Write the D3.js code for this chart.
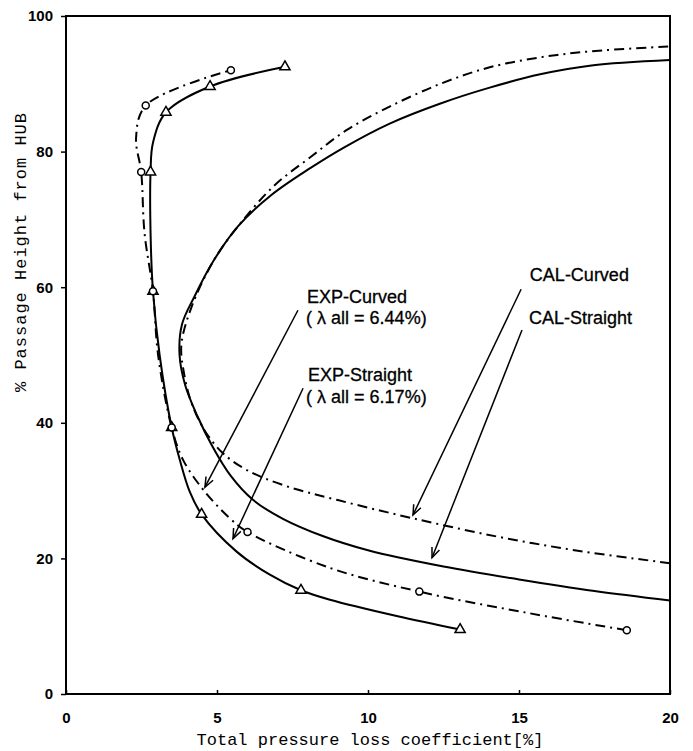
<!DOCTYPE html>
<meta charset="utf-8">
<title>Total pressure loss</title>
<style>
  body { margin: 0; background: #fff; }
  .tick-label { font-family: "Liberation Sans", Arial, sans-serif; font-weight: bold; font-size: 15px; }
  .axis-title { font-family: "Liberation Mono", "DejaVu Sans Mono", monospace; font-size: 17px; }
  .anno { font-family: "Liberation Sans", Arial, sans-serif; font-size: 18px; stroke: #000; stroke-width: 0.3px; }
</style>
<body>
<div id="chart"></div>
<script src="https://d3js.org/d3.v7.min.js"></script>
<script>

// tick labels
var xTicks = [0, 5, 10, 15, 20];
var yTicks = [0, 20, 40, 60, 80, 100];

// experiment markers  [loss %, height %]
var expStraightMarks = [[13.05, 9.5], [7.78, 15.3], [4.49, 26.5], [3.5, 39.3], [2.88, 59.4], [2.8, 77], [3.31, 85.8], [4.77, 89.6], [7.25, 92.5]];
var expCurvedMarks = [[18.57, 9.4], [11.7, 15.1], [6.01, 23.9], [3.5, 39.3], [2.88, 59.4], [2.49, 77], [2.64, 86.8], [5.46, 92]];

// experiment lines (markers plus points read between them)
var expStraightLine = [[13.05, 9.5], [10.95, 11.5], [8.74, 13.9], [7.78, 15.3], [6.75, 17.6], [5.65, 21.0], [4.49, 26.5], [4.1, 29.8], [3.77, 34.5], [3.5, 39.3], [3.1, 50], [2.88, 59.4], [2.8, 68], [2.8, 77], [2.88, 81.3], [3.31, 85.8], [4.77, 89.6], [7.25, 92.5]];
var expCurvedLine = [[18.57, 9.4], [15.36, 11.9], [11.7, 15.1], [8.74, 18.6], [6.01, 23.9], [5.43, 25.9], [4.55, 30.1], [3.88, 34.5], [3.5, 39.3], [3.05, 50], [2.88, 59.4], [2.6, 68], [2.49, 77], [2.32, 82], [2.64, 86.8], [5.46, 92]];

// calculation lines
var calStraight = [[20, 13.8], [17.5, 15.2], [15, 16.9], [12.5, 18.8], [10, 21.2], [8.5, 23.3], [7.2, 25.8], [6.2, 28.6], [5.45, 32.2], [4.85, 36.5], [4.35, 41], [3.95, 45.5], [3.76, 50], [3.84, 54.5], [4.25, 58.6], [4.9, 64], [5.7, 69], [6.8, 73.6], [8.1, 77.6], [9.2, 80.6], [10.7, 84.1], [12.4, 87.1], [14.0, 89.4], [15.7, 91.4], [17.4, 92.7], [20, 93.5]];
var calCurved = [[20, 19.3], [17, 21.1], [14.3, 23.2], [11.5, 25.9], [9, 28.6], [7.2, 30.8], [6.0, 33.0], [5.2, 35.5], [4.6, 38.8], [4.15, 43], [3.9, 47.5], [3.82, 51.5], [4.15, 57], [4.9, 64], [5.7, 69], [6.9, 75], [8.1, 79.2], [9.3, 83.2], [10.7, 86.6], [12.4, 90], [14, 92.4], [15.7, 93.9], [17.4, 94.8], [20, 95.5]];

// annotations
var annoText = ["EXP-Curved", "( \u03bb all = 6.44%)", "EXP-Straight", "( \u03bb all = 6.17%)", "CAL-Curved", "CAL-Straight"];
var annoAt = [[7.98, 57.7], [7.95, 54.5], [8.01, 46.1], [7.95, 42.9], [15.36, 60.9], [15.33, 54.5]];
var arrowFrom = [[7.68, 56.6], [7.85, 45.1], [15.07, 59.7], [15.1, 53.7]];
var arrowTo = [[4.6, 30.5], [5.53, 22.9], [11.49, 26.4], [12.12, 20.1]];

var W = 693, H = 751;
var margin = {top: 16, right: 23, bottom: 57, left: 66};

var svg = d3.select("#chart").append("svg")
    .attr("width", W)
    .attr("height", H);

var x = d3.scaleLinear().domain([0, 20]).range([margin.left, W - margin.right]);
var y = d3.scaleLinear().domain([0, 100]).range([H - margin.bottom, margin.top]);

// arrow head
svg.append("defs").append("marker")
    .attr("id", "arrow")
    .attr("viewBox", "-12 -6 14 12")
    .attr("refX", 0).attr("refY", 0)
    .attr("markerWidth", 14).attr("markerHeight", 12)
    .attr("markerUnits", "userSpaceOnUse")
    .attr("orient", "auto")
  .append("path")
    .attr("d", "M-10,-4L0,0L-10,4")
    .attr("fill", "none")
    .attr("stroke", "#000")
    .attr("stroke-width", 1.5);

// frame
svg.append("rect")
    .attr("x", x(0)).attr("y", y(100))
    .attr("width", x(20) - x(0)).attr("height", y(0) - y(100))
    .attr("fill", "none").attr("stroke", "#000").attr("stroke-width", 2);

// axes
var yAxis = svg.append("g")
    .attr("transform", "translate(" + x(0) + ",0)")
    .call(d3.axisLeft(y).tickValues(yTicks).tickSize(5).tickPadding(8));
var xAxis = svg.append("g")
    .attr("transform", "translate(0," + y(0) + ")")
    .call(d3.axisBottom(x).tickValues(xTicks).tickSize(-4).tickPadding(18));
[yAxis, xAxis].forEach(function(g) {
  g.select(".domain").remove();
  g.selectAll("line").attr("stroke-width", 1.5);
  g.selectAll("text").attr("class", "tick-label").attr("font-family", null).attr("font-size", null);
});

svg.append("text")
    .attr("class", "axis-title")
    .attr("x", (x(0) + x(20)) / 2 + 2)
    .attr("y", 745)
    .attr("text-anchor", "middle")
    .text("Total pressure loss coefficient[%]");

svg.append("text")
    .attr("class", "axis-title")
    .attr("transform", "translate(26,252) rotate(-90)")
    .attr("text-anchor", "middle")
    .attr("letter-spacing", "1px")
    .text("% Passage Height from HUB");

// lines
var line = d3.line()
    .x(function(d) { return x(d[0]); })
    .y(function(d) { return y(d[1]); })
    .curve(d3.curveCatmullRom.alpha(0.5));

var series = [
  {pts: calStraight, dash: null},
  {pts: calCurved, dash: "10,5,2,5"},
  {pts: expStraightLine, dash: null},
  {pts: expCurvedLine, dash: "10,5,2,5"}
];
svg.append("g").selectAll("path")
  .data(series)
  .enter().append("path")
    .attr("d", function(d) { return line(d.pts); })
    .attr("fill", "none")
    .attr("stroke", "#000")
    .attr("stroke-width", 2)
    .attr("stroke-dasharray", function(d) { return d.dash; });

// markers
svg.append("g").selectAll("path")
  .data(expStraightMarks)
  .enter().append("path")
    .attr("transform", function(d) { return "translate(" + x(d[0]) + "," + y(d[1]) + ")"; })
    .attr("d", d3.symbol().type(d3.symbolTriangle).size(45))
    .attr("fill", "#fff")
    .attr("stroke", "#000")
    .attr("stroke-width", 1.5);

svg.append("g").selectAll("circle")
  .data(expCurvedMarks)
  .enter().append("circle")
    .attr("cx", function(d) { return x(d[0]); })
    .attr("cy", function(d) { return y(d[1]); })
    .attr("r", 3.5)
    .attr("fill", "#fff")
    .attr("stroke", "#000")
    .attr("stroke-width", 1.5);

// annotation arrows and labels
svg.append("g").selectAll("line")
  .data(arrowFrom)
  .enter().append("line")
    .attr("x1", function(d) { return x(d[0]); })
    .attr("y1", function(d) { return y(d[1]); })
    .attr("x2", function(d, i) { return x(arrowTo[i][0]); })
    .attr("y2", function(d, i) { return y(arrowTo[i][1]); })
    .attr("stroke", "#000")
    .attr("stroke-width", 1.5)
    .attr("marker-end", "url(#arrow)");

svg.append("g").selectAll("text")
  .data(annoText)
  .enter().append("text")
    .attr("class", "anno")
    .attr("x", function(d, i) { return x(annoAt[i][0]); })
    .attr("y", function(d, i) { return y(annoAt[i][1]); })
    .text(function(d) { return d; });

</script>
</body>
